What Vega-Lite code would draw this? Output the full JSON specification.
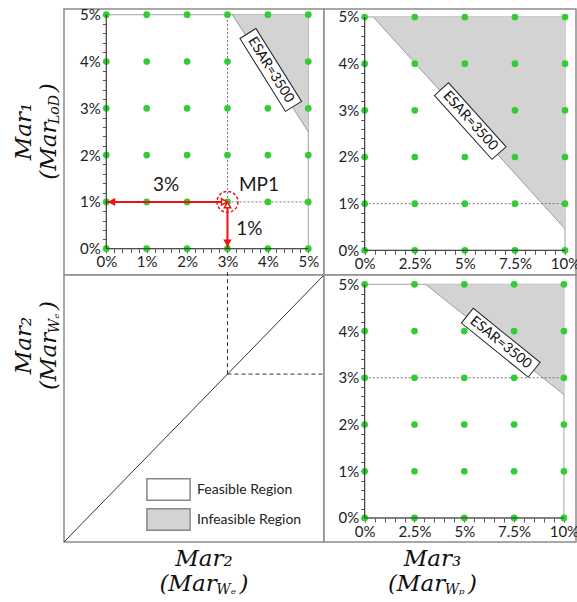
{
"$schema": "https://vega.github.io/schema/vega-lite/v6.json",
"padding": {"left": 11, "top": 6, "right": 0, "bottom": 0},
"background": "white",
"spacing": 0,
"bounds": "flush",
"columns": 2,
"datasets": {
"dotsA": [
{"x":0,"y":0},{"x":1,"y":0},{"x":2,"y":0},{"x":3,"y":0},{"x":4,"y":0},{"x":5,"y":0},
{"x":0,"y":1},{"x":1,"y":1},{"x":2,"y":1},{"x":3,"y":1},{"x":4,"y":1},{"x":5,"y":1},
{"x":0,"y":2},{"x":1,"y":2},{"x":2,"y":2},{"x":3,"y":2},{"x":4,"y":2},{"x":5,"y":2},
{"x":0,"y":3},{"x":1,"y":3},{"x":2,"y":3},{"x":3,"y":3},{"x":4,"y":3},{"x":5,"y":3},
{"x":0,"y":4},{"x":1,"y":4},{"x":2,"y":4},{"x":3,"y":4},{"x":4,"y":4},{"x":5,"y":4},
{"x":0,"y":5},{"x":1,"y":5},{"x":2,"y":5},{"x":3,"y":5},{"x":4,"y":5},{"x":5,"y":5}],
"dotsBD": [
{"x":0,"y":0},{"x":2.5,"y":0},{"x":5,"y":0},{"x":7.5,"y":0},{"x":10,"y":0},
{"x":0,"y":1},{"x":2.5,"y":1},{"x":5,"y":1},{"x":7.5,"y":1},{"x":10,"y":1},
{"x":0,"y":2},{"x":2.5,"y":2},{"x":5,"y":2},{"x":7.5,"y":2},{"x":10,"y":2},
{"x":0,"y":3},{"x":2.5,"y":3},{"x":5,"y":3},{"x":7.5,"y":3},{"x":10,"y":3},
{"x":0,"y":4},{"x":2.5,"y":4},{"x":5,"y":4},{"x":7.5,"y":4},{"x":10,"y":4},
{"x":0,"y":5},{"x":2.5,"y":5},{"x":5,"y":5},{"x":7.5,"y":5},{"x":10,"y":5}]
},
"concat": [
{
"width": 260, "height": 266,
"resolve": {"axis": {"x": "independent", "y": "independent"}},
"layer": [
{"data": {"values": [{"region": "Feasible Region"}]},
 "mark": {"type": "rect", "stroke": "#a0a0a0", "strokeWidth": 1},
 "encoding": {
  "x": {"datum": 0, "type": "quantitative", "scale": {"domain": [-1.047, 5.389], "nice": false, "zero": false},
        "axis": {"orient": "bottom", "offset": -26.3, "title": null, "values": [0,0.2,0.4,0.6,0.8,1,1.2,1.4,1.6,1.8,2,2.2,2.4,2.6,2.8,3,3.2,3.4,3.6,3.8,4,4.2,4.4,4.6,4.8,5], "labelExpr": "datum.value % 1 === 0 ? datum.value + '%' : ''"}},
  "x2": {"datum": 5},
  "y": {"datum": 0, "type": "quantitative", "scale": {"domain": [-0.562, 5.122], "nice": false, "zero": false},
        "axis": {"orient": "left", "offset": -42.3, "title": null, "values": [0,0.2,0.4,0.6,0.8,1,1.2,1.4,1.6,1.8,2,2.2,2.4,2.6,2.8,3,3.2,3.4,3.6,3.8,4,4.2,4.4,4.6,4.8,5], "labelExpr": "datum.value % 1 === 0 ? datum.value + '%' : ''"}},
  "y2": {"datum": 5},
  "fill": {"field": "region", "type": "nominal", "scale": {"domain": ["Feasible Region", "Infeasible Region"], "range": ["#ffffff", "#d3d3d3"]}, "legend": {"title": null}}
 }},
{"data": {"values": [{"x": 3.12, "y": 5, "y2": 5, "region": "Infeasible Region"}, {"x": 5, "y": 2.5, "y2": 5, "region": "Infeasible Region"}]},
 "mark": {"type": "area", "opacity": 1},
 "encoding": {"x": {"field": "x", "type": "quantitative", "axis": null}, "y": {"field": "y", "type": "quantitative", "axis": null}, "y2": {"field": "y2"},
  "fill": {"field": "region", "type": "nominal", "scale": {"domain": ["Feasible Region", "Infeasible Region"], "range": ["#ffffff", "#d3d3d3"]}, "legend": {"title": null}}}},
{"data": {"values": [{"x": 3.12, "y": 5}, {"x": 5, "y": 2.5}]},
 "mark": {"type": "line", "stroke": "#999999", "strokeWidth": 1},
 "encoding": {"x": {"field": "x", "type": "quantitative", "axis": null},
  "y": {"field": "y", "type": "quantitative", "axis": {"orient": "left", "labels": false, "ticks": false, "domain": false, "title": "LoD", "titleFontSize": 14, "titleAngle": -90, "titleX": -9.5, "titleY": 100}}}},
{"data": {"values": [{"x": 3, "y": 1, "x2": 3, "y2": 5}, {"x": 3, "y": 1, "x2": 5, "y2": 1}]},
 "mark": {"type": "rule", "stroke": "#777777", "strokeWidth": 1, "strokeDash": [2, 2]},
 "encoding": {"x": {"field": "x", "type": "quantitative", "axis": null}, "y": {"field": "y", "type": "quantitative", "axis": null}, "x2": {"field": "x2"}, "y2": {"field": "y2"}}},
{"data": {"name": "dotsA"},
 "mark": {"type": "point", "filled": true, "size": 45, "color": "#33cc33", "opacity": 1},
 "encoding": {"x": {"field": "x", "type": "quantitative", "axis": null},
  "y": {"field": "y", "type": "quantitative", "axis": {"orient": "left", "labels": false, "ticks": false, "domain": false, "title": ["Mar₁", "(Mar\u2002\u2002\u00a0)"], "titleFontSize": 23, "titleLineHeight": 25, "titleAngle": -90, "titleX": -40.5, "titleY": 122}}}},
{"data": {"values": [{"x": 0, "y": 1, "x2": 3, "y2": 1}, {"x": 3, "y": 0, "x2": 3, "y2": 1}]},
 "mark": {"type": "rule", "stroke": "#ee1111", "strokeWidth": 2},
 "encoding": {"x": {"field": "x", "type": "quantitative", "axis": null}, "y": {"field": "y", "type": "quantitative", "axis": null}, "x2": {"field": "x2"}, "y2": {"field": "y2"}}},
{"data": {"values": [{"x": 0.13, "y": 1, "s": "triangle-left"}, {"x": 3, "y": 0.12, "s": "triangle-down"}]},
 "mark": {"type": "point", "filled": true, "size": 70, "color": "#ee1111", "opacity": 1},
 "encoding": {"x": {"field": "x", "type": "quantitative", "axis": null}, "y": {"field": "y", "type": "quantitative", "axis": null}, "shape": {"field": "s", "type": "nominal", "scale": null}}},
{"data": {"values": [{"x": 2.92, "y": 1, "s": "triangle-right"}, {"x": 3, "y": 0.935, "s": "triangle-up"}]},
 "mark": {"type": "point", "filled": false, "size": 40, "stroke": "#ee1111", "fill": "white", "fillOpacity": 1, "strokeWidth": 1.5, "opacity": 1},
 "encoding": {"x": {"field": "x", "type": "quantitative", "axis": null}, "y": {"field": "y", "type": "quantitative", "axis": null}, "shape": {"field": "s", "type": "nominal", "scale": null}}},
{"data": {"values": [{"x": 3, "y": 1}]},
 "mark": {"type": "point", "filled": false, "shape": "circle", "size": 441, "stroke": "#ee1111", "strokeWidth": 1.5, "strokeDash": [3, 2], "opacity": 1},
 "encoding": {"x": {"field": "x", "type": "quantitative", "axis": null}, "y": {"field": "y", "type": "quantitative", "axis": null}}},
{"data": {"values": [{"x": 1.48, "y": 1.36, "t": "3%"}, {"x": 3.78, "y": 1.36, "t": "MP1"}, {"x": 3.54, "y": 0.42, "t": "1%"}]},
 "mark": {"type": "text", "font": "Lato", "fontSize": 19, "color": "#1a1a1a", "align": "center", "baseline": "middle"},
 "encoding": {"x": {"field": "x", "type": "quantitative", "axis": null}, "y": {"field": "y", "type": "quantitative", "axis": null}, "text": {"field": "t"}}},
{"data": {"values": [{"x": 4.07, "y": 3.82, "t": "ESAR=3500"}]},
 "mark": {"type": "point", "filled": true, "shape": "M-1,-0.22L1,-0.22L1,0.22L-1,0.22Z", "size": 7396, "angle": 58, "fill": "white", "stroke": "#222222", "strokeWidth": 1, "opacity": 1},
 "encoding": {"x": {"field": "x", "type": "quantitative", "axis": null}, "y": {"field": "y", "type": "quantitative", "axis": null}}},
{"data": {"values": [{"x": 4.07, "y": 3.82, "t": "ESAR=3500"}]},
 "mark": {"type": "text", "font": "Lato", "fontSize": 14, "angle": 58, "color": "#111", "align": "center", "baseline": "middle"},
 "encoding": {"x": {"field": "x", "type": "quantitative", "axis": null}, "y": {"field": "y", "type": "quantitative", "axis": null}, "text": {"field": "t"}}},
{"data": {"values": [{"x": 0, "y": 0, "x2": 0, "y2": 5}, {"x": 0, "y": 0, "x2": 5, "y2": 0}]},
 "mark": {"type": "rule", "stroke": "#333333", "strokeWidth": 1},
 "encoding": {"x": {"field": "x", "type": "quantitative", "axis": null}, "y": {"field": "y", "type": "quantitative", "axis": null}, "x2": {"field": "x2"}, "y2": {"field": "y2"}}}
]
},
{
"width": 252, "height": 266,
"resolve": {"axis": {"x": "independent", "y": "independent"}},
"layer": [
{"data": {"values": [{"region": "Feasible Region"}]},
 "mark": {"type": "rect", "stroke": "#a0a0a0", "strokeWidth": 1},
 "encoding": {
  "x": {"datum": 0, "type": "quantitative", "scale": {"domain": [-2.032, 10.549], "nice": false, "zero": false},
        "axis": {"orient": "bottom", "offset": -24.7, "title": null, "values": [0,0.5,1,1.5,2,2.5,3,3.5,4,4.5,5,5.5,6,6.5,7,7.5,8,8.5,9,9.5,10], "labelExpr": "datum.value % 2.5 === 0 ? datum.value + '%' : ''"}},
  "x2": {"datum": 10},
  "y": {"datum": 0, "type": "quantitative", "scale": {"domain": [-0.529, 5.171], "nice": false, "zero": false},
        "axis": {"orient": "left", "offset": -40.7, "title": null, "values": [0,0.2,0.4,0.6,0.8,1,1.2,1.4,1.6,1.8,2,2.2,2.4,2.6,2.8,3,3.2,3.4,3.6,3.8,4,4.2,4.4,4.6,4.8,5], "labelExpr": "datum.value % 1 === 0 ? datum.value + '%' : ''"}},
  "y2": {"datum": 5},
  "fill": {"field": "region", "type": "nominal", "scale": {"domain": ["Feasible Region", "Infeasible Region"], "range": ["#ffffff", "#d3d3d3"]}, "legend": {"title": null}}
 }},
{"data": {"values": [{"x": 0.43, "y": 5, "y2": 5, "region": "Infeasible Region"}, {"x": 10, "y": 0.46, "y2": 5, "region": "Infeasible Region"}]},
 "mark": {"type": "area", "opacity": 1},
 "encoding": {"x": {"field": "x", "type": "quantitative", "axis": null}, "y": {"field": "y", "type": "quantitative", "axis": null}, "y2": {"field": "y2"},
  "fill": {"field": "region", "type": "nominal", "scale": {"domain": ["Feasible Region", "Infeasible Region"], "range": ["#ffffff", "#d3d3d3"]}, "legend": {"title": null}}}},
{"data": {"values": [{"x": 0.43, "y": 5}, {"x": 10, "y": 0.46}]},
 "mark": {"type": "line", "stroke": "#999999", "strokeWidth": 1},
 "encoding": {"x": {"field": "x", "type": "quantitative", "axis": null}, "y": {"field": "y", "type": "quantitative", "axis": null}}},
{"data": {"values": [{"x": 0, "y": 1, "x2": 10, "y2": 1}]},
 "mark": {"type": "rule", "stroke": "#777777", "strokeWidth": 1, "strokeDash": [2, 2]},
 "encoding": {"x": {"field": "x", "type": "quantitative", "axis": null}, "y": {"field": "y", "type": "quantitative", "axis": null}, "x2": {"field": "x2"}, "y2": {"field": "y2"}}},
{"data": {"name": "dotsBD"},
 "mark": {"type": "point", "filled": true, "size": 45, "color": "#33cc33", "opacity": 1},
 "encoding": {"x": {"field": "x", "type": "quantitative", "axis": null}, "y": {"field": "y", "type": "quantitative", "axis": null}}},
{"data": {"values": [{"x": 5.27, "y": 2.77}]},
 "mark": {"type": "point", "filled": true, "shape": "M-1,-0.22L1,-0.22L1,0.22L-1,0.22Z", "size": 7396, "angle": 48, "fill": "white", "stroke": "#222222", "strokeWidth": 1, "opacity": 1},
 "encoding": {"x": {"field": "x", "type": "quantitative", "axis": null}, "y": {"field": "y", "type": "quantitative", "axis": null}}},
{"data": {"values": [{"x": 5.27, "y": 2.77, "t": "ESAR=3500"}]},
 "mark": {"type": "text", "font": "Lato", "fontSize": 14, "angle": 48, "color": "#111", "align": "center", "baseline": "middle"},
 "encoding": {"x": {"field": "x", "type": "quantitative", "axis": null}, "y": {"field": "y", "type": "quantitative", "axis": null}, "text": {"field": "t"}}},
{"data": {"values": [{"x": 0, "y": 0, "x2": 0, "y2": 5}, {"x": 0, "y": 0, "x2": 10, "y2": 0}]},
 "mark": {"type": "rule", "stroke": "#333333", "strokeWidth": 1},
 "encoding": {"x": {"field": "x", "type": "quantitative", "axis": null}, "y": {"field": "y", "type": "quantitative", "axis": null}, "x2": {"field": "x2"}, "y2": {"field": "y2"}}}
]
},
{
"width": 260, "height": 267,
"resolve": {"axis": {"x": "independent", "y": "independent"}},
"layer": [
{"data": {"values": [{"x": -1.047, "y": -1.047}, {"x": 5.389, "y": 5.389}]},
 "mark": {"type": "line", "stroke": "#333333", "strokeWidth": 1},
 "encoding": {
  "x": {"field": "x", "type": "quantitative", "scale": {"domain": [-1.047, 5.389], "nice": false, "zero": false},
        "axis": {"orient": "bottom", "labels": false, "ticks": false, "domain": false, "title": ["Mar₂", "(Mar\u2002\u2002)"], "titleFontSize": 23, "titleLineHeight": 25, "titleAngle": 0, "titleX": 139.5, "titleY": 16}},
  "y": {"field": "y", "type": "quantitative", "scale": {"domain": [-1.047, 5.389], "nice": false, "zero": false},
        "axis": {"orient": "left", "labels": false, "ticks": false, "domain": false, "title": ["Mar₂", "(Mar\u2002\u2002)"], "titleFontSize": 23, "titleLineHeight": 25, "titleAngle": -90, "titleX": -40.5, "titleY": 70}}
 }},
{"data": {"values": [{"x": 3, "y": 3, "x2": 3, "y2": 5.51}, {"x": 3, "y": 3, "x2": 6.4, "y2": 3}]},
 "mark": {"type": "rule", "stroke": "#333333", "strokeWidth": 1, "strokeDash": [4, 3]},
 "encoding": {
  "x": {"field": "x", "type": "quantitative", "axis": {"orient": "bottom", "labels": false, "ticks": false, "domain": false, "title": "Wₑ", "titleFontSize": 14, "titleAngle": 0, "titleX": 161.7, "titleY": 47}},
  "y": {"field": "y", "type": "quantitative", "axis": {"orient": "left", "labels": false, "ticks": false, "domain": false, "title": "Wₑ", "titleFontSize": 14, "titleAngle": -90, "titleX": -9.5, "titleY": 47.8}},
  "x2": {"field": "x2"}, "y2": {"field": "y2"}}}
]
},
{
"width": 252, "height": 267,
"resolve": {"axis": {"x": "independent", "y": "independent"}},
"layer": [
{"data": {"values": [{"region": "Feasible Region"}]},
 "mark": {"type": "rect", "stroke": "#a0a0a0", "strokeWidth": 1},
 "encoding": {
  "x": {"datum": 0, "type": "quantitative", "scale": {"domain": [-2.042, 10.607], "nice": false, "zero": false},
        "axis": {"orient": "bottom", "offset": -24, "title": null, "values": [0,0.5,1,1.5,2,2.5,3,3.5,4,4.5,5,5.5,6,6.5,7,7.5,8,8.5,9,9.5,10], "labelExpr": "datum.value % 2.5 === 0 ? datum.value + '%' : ''"}},
  "x2": {"datum": 10},
  "y": {"datum": 0, "type": "quantitative", "scale": {"domain": [-0.514, 5.199], "nice": false, "zero": false},
        "axis": {"orient": "left", "offset": -40.7, "title": null, "values": [0,0.2,0.4,0.6,0.8,1,1.2,1.4,1.6,1.8,2,2.2,2.4,2.6,2.8,3,3.2,3.4,3.6,3.8,4,4.2,4.4,4.6,4.8,5], "labelExpr": "datum.value % 1 === 0 ? datum.value + '%' : ''"}},
  "y2": {"datum": 5},
  "fill": {"field": "region", "type": "nominal", "scale": {"domain": ["Feasible Region", "Infeasible Region"], "range": ["#ffffff", "#d3d3d3"]}, "legend": {"title": null}}
 }},
{"data": {"values": [{"x": 3.06, "y": 5, "y2": 5, "region": "Infeasible Region"}, {"x": 10, "y": 2.64, "y2": 5, "region": "Infeasible Region"}]},
 "mark": {"type": "area", "opacity": 1},
 "encoding": {"x": {"field": "x", "type": "quantitative", "axis": null}, "y": {"field": "y", "type": "quantitative", "axis": null}, "y2": {"field": "y2"},
  "fill": {"field": "region", "type": "nominal", "scale": {"domain": ["Feasible Region", "Infeasible Region"], "range": ["#ffffff", "#d3d3d3"]}, "legend": {"title": null}}}},
{"data": {"values": [{"x": 3.06, "y": 5}, {"x": 10, "y": 2.64}]},
 "mark": {"type": "line", "stroke": "#999999", "strokeWidth": 1},
 "encoding": {"x": {"field": "x", "type": "quantitative", "axis": {"orient": "bottom", "labels": false, "ticks": false, "domain": false, "title": "Wₚ", "titleFontSize": 14, "titleAngle": 0, "titleX": 130.2, "titleY": 47}},
  "y": {"field": "y", "type": "quantitative", "axis": null}}},
{"data": {"values": [{"x": 0, "y": 3, "x2": 10, "y2": 3}]},
 "mark": {"type": "rule", "stroke": "#777777", "strokeWidth": 1, "strokeDash": [2, 2]},
 "encoding": {"x": {"field": "x", "type": "quantitative", "axis": null}, "y": {"field": "y", "type": "quantitative", "axis": null}, "x2": {"field": "x2"}, "y2": {"field": "y2"}}},
{"data": {"name": "dotsBD"},
 "mark": {"type": "point", "filled": true, "size": 45, "color": "#33cc33", "opacity": 1},
 "encoding": {"x": {"field": "x", "type": "quantitative", "axis": {"orient": "bottom", "labels": false, "ticks": false, "domain": false, "title": ["Mar₃", "(Mar\u2002\u2002)"], "titleFontSize": 23, "titleLineHeight": 25, "titleAngle": 0, "titleX": 108, "titleY": 16}},
  "y": {"field": "y", "type": "quantitative", "axis": null}}},
{"data": {"values": [{"x": 6.83, "y": 3.75}]},
 "mark": {"type": "point", "filled": true, "shape": "M-1,-0.22L1,-0.22L1,0.22L-1,0.22Z", "size": 7396, "angle": 39, "fill": "white", "stroke": "#222222", "strokeWidth": 1, "opacity": 1},
 "encoding": {"x": {"field": "x", "type": "quantitative", "axis": null}, "y": {"field": "y", "type": "quantitative", "axis": null}}},
{"data": {"values": [{"x": 6.83, "y": 3.75, "t": "ESAR=3500"}]},
 "mark": {"type": "text", "font": "Lato", "fontSize": 14, "angle": 39, "color": "#111", "align": "center", "baseline": "middle"},
 "encoding": {"x": {"field": "x", "type": "quantitative", "axis": null}, "y": {"field": "y", "type": "quantitative", "axis": null}, "text": {"field": "t"}}},
{"data": {"values": [{"x": 0, "y": 0, "x2": 0, "y2": 5}, {"x": 0, "y": 0, "x2": 10, "y2": 0}]},
 "mark": {"type": "rule", "stroke": "#333333", "strokeWidth": 1},
 "encoding": {"x": {"field": "x", "type": "quantitative", "axis": null}, "y": {"field": "y", "type": "quantitative", "axis": null}, "x2": {"field": "x2"}, "y2": {"field": "y2"}}}
]
}
],
"config": {
 "view": {"stroke": "#8c8c8c", "strokeWidth": 1.5, "fill": "white"},
 "axis": {"grid": false, "domain": false, "labelFont": "Lato", "labelFontSize": 15, "labelColor": "#222222", "labelPadding": 2, "labelOverlap": false, "labelFlush": false, "tickColor": "#555555", "tickSize": 4,
          "titleFont": "DejaVu Serif", "titleFontStyle": "italic", "titleFontWeight": "normal", "titleColor": "#111111", "titleAlign": "center", "titleBaseline": "middle", "titlePadding": 0},
 "legend": {"orient": "none", "legendX": 90, "legendY": 466, "symbolType": "M-1.6,-0.8L1.6,-0.8L1.6,0.8L-1.6,0.8Z", "symbolSize": 729, "symbolStrokeColor": "#888888", "symbolStrokeWidth": 1.5, "symbolOpacity": 1,
            "labelFont": "Lato", "labelFontSize": 14, "labelColor": "#222222", "labelOffset": 14, "rowPadding": 1, "padding": 0}
}
}
